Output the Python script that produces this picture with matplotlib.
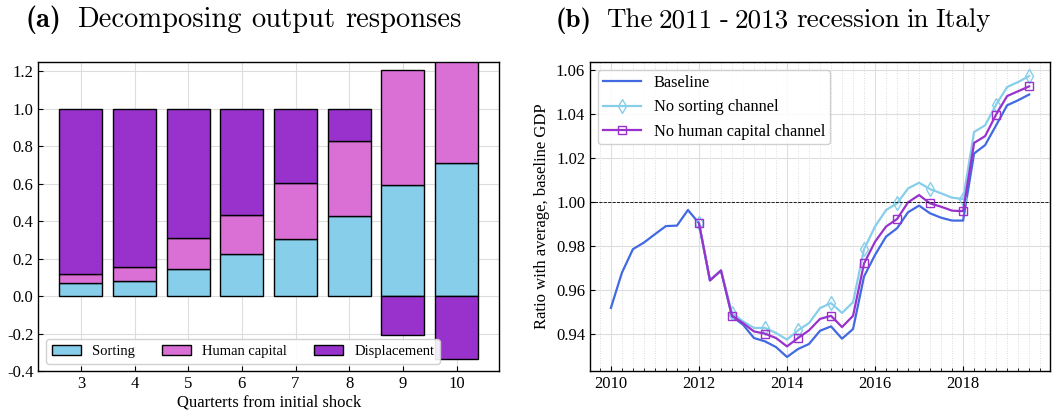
import numpy as np
import matplotlib
matplotlib.use("Agg")
import matplotlib.pyplot as plt
from matplotlib import ticker

plt.rcParams["font.family"] = ["Liberation Serif", "DejaVu Serif"]
plt.rcParams["axes.unicode_minus"] = False

# panel (a): shares of the output response by channel
quarters = [3, 4, 5, 6, 7, 8, 9, 10]
sorting = [0.070, 0.082, 0.146, 0.225, 0.307, 0.430, 0.594, 0.710]
human_capital = [0.048, 0.071, 0.162, 0.208, 0.296, 0.397, 0.613, 0.625]
displacement = [0.882, 0.847, 0.692, 0.567, 0.397, 0.173, -0.207, -0.335]

# panel (b): GDP relative to average baseline, quarterly
years = np.arange(2010.0, 2019.51, 0.25)
baseline = [0.952, 0.968, 0.9787, 0.9817, 0.9855, 0.9892, 0.9894, 0.9965,
            0.9905, 0.9645, 0.969, 0.9481, 0.9444, 0.9383, 0.9368, 0.9342,
            0.9297, 0.9333, 0.9356, 0.9416, 0.9436, 0.938, 0.9424, 0.9663,
            0.9761, 0.9844, 0.9882, 0.9955, 0.9985, 0.995, 0.993, 0.9917,
            0.9917, 1.0222, 1.026, 1.035, 1.0441, 1.0464, 1.049]
cf_years = years[8:]
no_sorting = [0.9905, 0.9645, 0.969, 0.9497, 0.9459, 0.9429, 0.9429, 0.9406,
              0.9376, 0.9418, 0.9451, 0.9519, 0.9542, 0.9497, 0.9546, 0.9787,
              0.989, 0.9965, 0.9995, 1.0063, 1.0089, 1.006, 1.0041, 1.0021,
              1.0015, 1.032, 1.035, 1.0444, 1.0524, 1.0547, 1.0574]
no_human_capital = [0.9905, 0.9645, 0.969, 0.9485, 0.9451, 0.9413, 0.9403,
                    0.9383, 0.9345, 0.9383, 0.9418, 0.947, 0.9484, 0.9433,
                    0.9484, 0.9722, 0.9821, 0.989, 0.9924, 1.0, 1.0033, 0.9995,
                    0.998, 0.9962, 0.996, 1.027, 1.0301, 1.0399, 1.0483,
                    1.0505, 1.0527]

fig = plt.figure(figsize=(10.6, 4.17), dpi=100)
ax1 = fig.add_axes([0.0363, 0.1103, 0.4344, 0.741])
ax2 = fig.add_axes([0.5566, 0.1103, 0.434, 0.741])

for ax in (ax1, ax2):
    ax.tick_params(direction="in", which="both", labelsize=12)
    for sp in ax.spines.values():
        sp.set_linewidth(1.0)
    ax.set_axisbelow(True)

# stacked bars, negative displacement hangs below zero
s = np.array(sorting)
h = np.array(human_capital)
d = np.array(displacement)
edge = dict(edgecolor="black", linewidth=1.0, width=0.8)
ax1.bar(quarters, s, color="skyblue", label="Sorting", **edge)
ax1.bar(quarters, h, bottom=s, color="orchid", label="Human capital", **edge)
ax1.bar(quarters, d, bottom=np.where(d > 0, s + h, 0), color="darkorchid",
        label="Displacement", **edge)
ax1.set_ylim(-0.4, 1.25)
ax1.set_xticks(quarters)
ax1.yaxis.set_major_locator(ticker.MultipleLocator(0.2))
ax1.yaxis.set_major_formatter(ticker.FormatStrFormatter("%.1f"))
ax1.grid(True, color="#dddddd", linewidth=0.8)
ax1.set_xlabel("Quarterts from initial shock", fontsize=12, labelpad=2)
ax1.legend(loc="lower left", ncol=3, fontsize=10.5, columnspacing=1.8,
           handlelength=2.0, handleheight=0.7, borderpad=0.4,
           framealpha=0.9, edgecolor="#cccccc")

ax2.plot(years, baseline, color="royalblue", lw=1.6, label="Baseline")
ax2.plot(cf_years, no_sorting, color="skyblue", lw=1.6, marker="d", ms=7,
         mfc="none", mew=1.0, markevery=3, label="No sorting channel")
ax2.plot(cf_years, no_human_capital, color="darkorchid", lw=1.6, marker="s",
         ms=6, mfc="none", mew=1.0, markevery=3,
         label="No human capital channel")
ax2.axhline(1.0, color="black", lw=0.6, ls="--")
ax2.xaxis.set_major_locator(ticker.MultipleLocator(2))
ax2.xaxis.set_minor_locator(ticker.MultipleLocator(0.25))
ax2.yaxis.set_major_locator(ticker.MultipleLocator(0.02))
ax2.yaxis.set_major_formatter(ticker.FormatStrFormatter("%.2f"))
ax2.grid(True, which="major", color="#dddddd", linewidth=0.8)
ax2.grid(True, which="minor", axis="x", color="#d0d0d0", linewidth=0.6,
         ls=(0, (1, 2)))
ax2.set_ylabel("Ratio with average, baseline GDP", fontsize=12, labelpad=4)
ax2.legend(loc="upper left", fontsize=11.8, handlelength=2.3,
           handletextpad=0.8, borderpad=0.3, framealpha=0.9,
           edgecolor="#cccccc")

# panel titles: bold tag, then roman words laid out one by one
renderer = fig.canvas.get_renderer()
title_y = 1 - 27 / 417


def put_title(x0, tag, text, size, tag_gap, word_gap):
    t = fig.text(x0 / 1060, title_y, tag, family="cmb10", fontsize=size,
                 va="baseline", ha="left")
    x = x0 + t.get_window_extent(renderer).width + tag_gap
    for word in text.split(" "):
        t = fig.text(x / 1060, title_y, word, family="cmr10", fontsize=size,
                     va="baseline", ha="left")
        x += t.get_window_extent(renderer).width + word_gap


put_title(26, "(a)", "Decomposing output responses", 20.5, 15, 10)
put_title(556, "(b)", "The 2011 - 2013 recession in Italy", 19.5, 14, 6.5)

fig.savefig("out.png", dpi=100)
